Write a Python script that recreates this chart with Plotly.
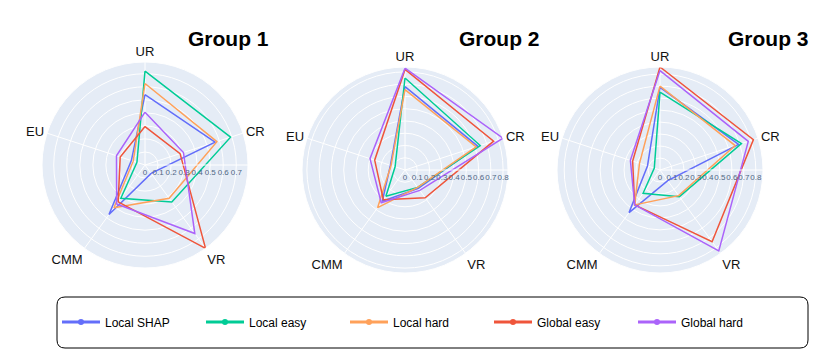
import plotly.graph_objects as go

categories = ["UR", "CR", "VR", "CMM", "EU"]
series_names = ["Local SHAP", "Local easy", "Local hard", "Global easy", "Global hard"]
colors = ["#636EFA", "#00CC96", "#FFA15A", "#EF553B", "#AB63FA"]
group_titles = ["Group 1", "Group 2", "Group 3"]

# Group 1 values (UR, CR, VR, CMM, EU)
g1_local_shap = [0.54, 0.565, 0.08, 0.47, 0.11]
g1_local_easy = [0.72, 0.69, 0.35, 0.315, 0.065]
g1_local_hard = [0.625, 0.58, 0.315, 0.405, 0.095]
g1_global_easy = [0.295, 0.283, 0.79, 0.35, 0.20]
g1_global_hard = [0.405, 0.31, 0.65, 0.37, 0.23]

# Group 2
g2_local_shap = [0.68, 0.625, 0.185, 0.315, 0.125]
g2_local_easy = [0.75, 0.645, 0.175, 0.265, 0.085]
g2_local_hard = [0.655, 0.61, 0.175, 0.38, 0.12]
g2_global_easy = [0.82, 0.76, 0.28, 0.30, 0.26]
g2_global_hard = [0.83, 0.84, 0.205, 0.33, 0.30]

# Group 3
g3_local_shap = [0.69, 0.69, 0.11, 0.44, 0.11]
g3_local_easy = [0.65, 0.715, 0.275, 0.24, 0.05]
g3_local_hard = [0.70, 0.66, 0.265, 0.36, 0.18]
g3_global_easy = [0.86, 0.82, 0.74, 0.36, 0.24]
g3_global_hard = [0.83, 0.775, 0.835, 0.36, 0.26]

groups = [
    [g1_local_shap, g1_local_easy, g1_local_hard, g1_global_easy, g1_global_hard],
    [g2_local_shap, g2_local_easy, g2_local_hard, g2_global_easy, g2_global_hard],
    [g3_local_shap, g3_local_easy, g3_local_hard, g3_global_easy, g3_global_hard],
]

W, H = 830, 358
OFF = 8  # page body margin
# polar geometry in page pixels: (center x, center y from top, radius)
geo = [(145, 165, 103), (405, 170, 103), (660, 170, 103)]
title_pos = [(228, 39), (499, 39), (768, 39)]

def px(x):
    return (x - OFF) / W

def py(y):
    return 1 - (y - OFF) / H

fig = go.Figure()
for gi, series in enumerate(groups):
    pname = "polar" if gi == 0 else f"polar{gi+1}"
    for si, vals in enumerate(series):
        fig.add_trace(go.Scatterpolar(
            r=vals + vals[:1],
            theta=categories + categories[:1],
            mode="lines",
            name=series_names[si],
            line=dict(color=colors[si], width=1.5),
            subplot=pname,
            showlegend=False,
            legendgroup=series_names[si],
        ))
    cx, cy, R = geo[gi]
    fig.layout[pname] = dict(
        domain=dict(x=[px(cx - R), px(cx + R)], y=[py(cy + R), py(cy - R)]),
        bgcolor="#E5ECF6",
        angularaxis=dict(rotation=90, direction="clockwise",
                         tickfont=dict(size=13, color="#111", family="Liberation Sans, Arial"),
                         gridcolor="white", linecolor="white", ticks=""),
        radialaxis=dict(angle=0, tickangle=0, tick0=0, dtick=0.1, rangemode="tozero",
                        tickfont=dict(size=8, color="#506784"),
                        gridcolor="white", linecolor="white", ticks=""),
    )
    tx, ty = title_pos[gi]
    fig.add_annotation(x=px(tx), y=py(ty), xref="paper", yref="paper",
                       text=f"<b>{group_titles[gi]}</b>", showarrow=False,
                       font=dict(size=21, color="black", family="Liberation Sans, Arial"),
                       xanchor="center", yanchor="middle")

# legend entries (symbols only, no data drawn)
for si, name in enumerate(series_names):
    fig.add_trace(go.Scatterpolar(
        r=[None], theta=[None], mode="lines+markers", name=name,
        line=dict(color=colors[si], width=3),
        marker=dict(size=6, color=colors[si]),
        subplot="polar", legendgroup=name, showlegend=True,
    ))

# rounded legend frame
x0, x1, y0, y1 = px(57), px(808), py(348), py(297)
rx, ry = 8 / W, 8 / H
path = (f"M {x0+rx},{y0} L {x1-rx},{y0} Q {x1},{y0} {x1},{y0+ry} "
        f"L {x1},{y1-ry} Q {x1},{y1} {x1-rx},{y1} L {x0+rx},{y1} "
        f"Q {x0},{y1} {x0},{y1-ry} L {x0},{y0+ry} Q {x0},{y0} {x0+rx},{y0} Z")
fig.add_shape(type="path", path=path, xref="paper", yref="paper",
              line=dict(color="black", width=1))

fig.update_layout(
    width=W, height=H,
    margin=dict(l=0, r=0, t=0, b=0),
    paper_bgcolor="white",
    template="plotly",
    font=dict(family="Liberation Sans, Arial"),
    legend=dict(orientation="h", x=px(57), xanchor="left", y=py(322), yanchor="middle",
                font=dict(size=12, color="black"),
                itemwidth=38,
                entrywidth=91, entrywidthmode="pixels",
                bgcolor="rgba(0,0,0,0)"),
)

fig.write_html("out.html")
